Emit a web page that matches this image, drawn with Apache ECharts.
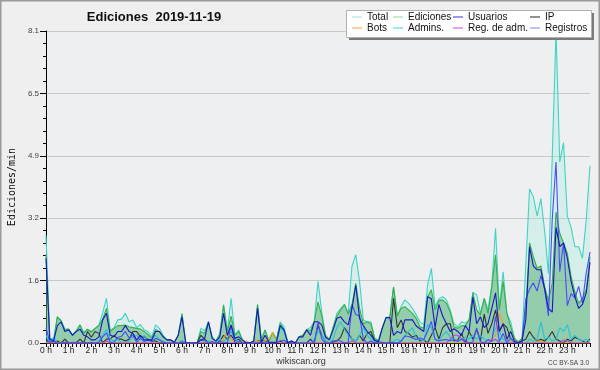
<!DOCTYPE html>
<html><head><meta charset="utf-8">
<script src="https://cdn.jsdelivr.net/npm/echarts@6/dist/echarts.min.js"></script>
<style>html,body{margin:0;padding:0;background:#efefef}#c{width:600px;height:370px}</style>
</head><body><div id="c"></div><script>
const hourLabels = ["0 h","1 h","2 h","3 h","4 h","5 h","6 h","7 h","8 h","9 h","10 h","11 h","12 h","13 h","14 h","15 h","16 h","17 h","18 h","19 h","20 h","21 h","22 h","23 h"];
const yTicks = [0, 1.62, 3.24, 4.86, 6.48, 8.1];

const total = [
2.8,0.12,0.1,0.68,0.58,0.36,0.36,0.22,0.32,0.47,0.27,0.36,
0.3,0.38,0.47,0.78,1.16,0.32,0.4,0.6,0.62,0.77,0.55,0.6,
0.4,0.48,0.34,0.3,0.16,0.47,0.38,0.2,0.08,0.08,0.02,0.2,
0.77,0,0,0,0,0.38,0.32,0.55,0.16,0.05,0.25,1.0,
0.3,1.16,0.2,0.34,0.08,0,0,0.05,1.0,0.1,0.34,0.05,
0.28,0.1,0.55,0.42,0.02,0.05,0,0.16,0.2,0.35,0.4,0.55,
1.6,0.8,0.2,0.08,0.42,0.77,0.9,1.0,0.77,2.0,2.29,1.6,
0.6,0.55,0.55,0.12,0.08,0.4,0.66,0.68,1.46,0.7,0.95,1.12,
1.03,0.9,0.73,0.55,0.47,1.5,1.94,0.95,1.15,1.2,1.12,0.86,
0.51,0.42,0.55,0.51,0.6,1.32,1.25,0.77,1.16,0.86,1.5,2.98,
0.9,1.85,0.77,0.55,0.12,0.03,0.12,2.0,4.0,3.8,3.3,3.75,
2.9,1.8,4.8,8.1,4.7,5.2,3.3,3.0,2.5,2.5,2.2,3.2,
4.6];
const ediciones = [
2.3,0.1,0.05,0.68,0.58,0.34,0.36,0.2,0.3,0.47,0.25,0.36,
0.28,0.38,0.45,0.62,0.9,0.3,0.38,0.45,0.45,0.47,0.42,0.4,
0.38,0.36,0.3,0.22,0.12,0.35,0.3,0.18,0.08,0.08,0.02,0.2,
0.75,0,0,0,0,0.3,0.25,0.55,0.12,0.05,0.22,0.98,
0.3,0.7,0.2,0.3,0.08,0,0,0.05,1.0,0.08,0.34,0.05,
0.28,0.08,0.5,0.35,0.02,0.05,0,0.16,0.2,0.35,0.32,0.55,
1.07,0.7,0.2,0.08,0.4,0.7,0.85,1.0,0.75,1.0,1.55,0.9,
0.5,0.55,0.5,0.12,0.05,0.38,0.66,0.66,1.45,0.7,0.9,0.94,
0.86,0.77,0.64,0.42,0.38,1.2,1.38,0.86,1.1,1.12,1.03,0.8,
0.42,0.38,0.45,0.45,0.6,1.29,0.86,0.73,1.16,0.77,1.46,2.29,
0.86,1.6,0.77,0.42,0.12,0.03,0.12,0.86,2.6,2.24,1.95,2.0,
1.46,1.1,1.55,3.4,2.85,2.6,2.33,1.72,1.33,1.03,1.16,1.38,
2.24];
const usuarios = [
2.2,0.1,0.05,0.45,0.55,0.3,0.34,0.2,0.3,0.36,0.2,0.16,
0.08,0.08,0.16,0.6,0.77,0.2,0.16,0.3,0.3,0.45,0.3,0.25,
0.08,0.2,0.08,0.08,0.08,0.3,0.3,0.16,0.08,0.08,0.02,0.2,
0.68,0,0,0,0,0.08,0.12,0.55,0.12,0.05,0.16,0.77,
0.2,0.47,0.12,0.16,0.08,0,0,0.05,0.9,0.02,0.2,0.02,
0.02,0.02,0.45,0.34,0,0.05,0,0.16,0.16,0.34,0.2,0.55,
0.55,0.47,0.15,0.08,0.34,0.64,0.68,0.55,0.47,0.9,1.5,0.64,
0.45,0.3,0.2,0.07,0.03,0.38,0.66,0.66,0.2,0.3,0.25,0.6,
0.6,0.6,0.44,0.37,0.3,1.2,1.15,0.4,1.0,0.7,0.5,0.3,
0.37,0.3,0.2,0.45,0.3,1.19,0.5,0.68,0.4,0.5,0.9,1.3,
0.3,0.5,0.1,0.3,0.05,0,0.05,0.6,2.5,2.0,1.9,1.9,
1.4,0.9,0.8,3.0,2.5,2.6,2.2,1.6,1.2,0.9,1.0,1.3,
2.1];
const ip = [
0.1,0,0,0.05,0,0.1,0,0,0,0.1,0,0.3,
0.15,0.3,0.25,0,0.1,0.1,0.2,0.1,0.1,0.05,0.1,0.3,
0.3,0.16,0.16,0.1,0.05,0.05,0,0.02,0,0,0,0,
0.05,0,0,0,0,0.2,0.1,0,0,0,0.05,0.2,
0.1,0.2,0.05,0.1,0,0,0,0,0.05,0.05,0.05,0,
0,0,0.05,0,0,0,0,0,0,0,0.1,0,
0.45,0.2,0.05,0,0.05,0.05,0.15,0.4,0.25,0.1,0.05,0.2,
0.05,0.25,0.3,0.05,0.02,0,0,0,1.16,0.4,0.6,0.3,
0.25,0.15,0.2,0.05,0.08,0,0.2,0.4,0.1,0.4,0.5,0.5,
0.05,0.08,0.25,0,0.3,0.1,0.35,0.05,0.75,0.25,0.5,0.86,
0.3,0.5,0.4,0.1,0.05,0,0.05,0.1,0.3,0.15,0.05,0.1,
0.05,0.15,0.3,0.1,0.05,0,0.1,0.05,0.15,0.1,0.05,0,
0.1];
const bots = [
0,0,0,0,0,0,0,0,0,0,0,0,
0,0,0,0,0,0,0,0,0,0,0,0,
0,0,0,0,0,0,0,0,0,0,0,0,
0,0,0,0,0,0,0,0,0,0,0,0.1,
0.3,0.1,0.02,0,0,0.05,0,0,0.05,0,0.05,0.1,
0.28,0.05,0,0,0,0,0,0,0,0,0,0,
0,0,0,0,0,0,0,0,0,0,0,0,
0,0,0,0,0,0,0,0,0,0,0,0,
0,0,0,0,0,0,0,0,0,0,0,0,
0,0,0,0,0,0,0,0,0,0,0.1,0.2,
0.77,0.5,0.1,0,0.08,0,0,0,0,0,0.05,0.05,
0,0,0,0,0,0,0,0,0,0,0,0,
0];
const admins = [
0.2,0,0.15,0,0,0,0,0,0,0,0,0,
0,0,0.05,0.2,0.35,0.1,0.05,0.1,0,0,0.05,0.15,
0.2,0.1,0.2,0.05,0.1,0.2,0.1,0.05,0,0,0,0,
0.05,0,0,0,0,0.1,0,0.05,0,0,0.1,0.05,
0.1,0.3,0.1,0.05,0,0,0,0,0,0,0,0,
0,0,0.4,0.3,0,0,0,0,0,0,0,0.1,
0.3,0.2,0.05,0,0.1,0.4,0.55,0.35,0.2,0.1,0.05,0.2,
0.4,0.2,0.1,0.05,0,0,0,0,0.05,0.1,0.05,0.2,
0.3,0.4,0.1,0.1,0.05,0.47,0.4,0.1,0.05,0.2,0.3,0.15,
0.1,0.05,0.1,0.15,0.1,0.2,0.1,0.2,0.1,0.05,0.1,0.4,
0.3,0.1,0.05,0.1,0.02,0,0,0,0.1,0.05,0.1,0.55,
0.1,0.15,0.05,0.1,0.4,0.3,0.47,0.1,0.2,0.1,0.05,0.1,
0.05];
const regAdm = [
0,0,0,0,0,0,0,0,0,0,0,0,
0,0,0,0,0.05,0,0,0,0,0,0,0,
0,0,0,0,0,0,0,0,0,0,0,0,
0,0,0,0,0,0,0,0,0,0,0,0,
0,0,0,0,0,0,0,0,0,0,0,0,
0,0,0,0,0,0,0,0,0,0,0,0,
0,0,0,0,0,0,0,0,0,0.05,0,0,
0,0,0,0,0,0,0,0,0,0,0,0,
0,0,0,0,0,0,0,0,0,0,0,0.1,
0.2,0.2,0.1,0,0,0,0,0,0,0,0.05,0.1,
0,0,0,0,0,0,0,0,0,0,0,0,
0,0,0,0,0,0.08,0.05,0,0,0,0,0,
0];
const registros = [
0.4,0.02,0.05,0,0,0.02,0,0.02,0.02,0,0.02,0,
0.02,0,0.02,0.16,0.26,0.02,0.02,0.15,0.17,0.3,0.13,0.2,
0.02,0.12,0.04,0.08,0.04,0.12,0.08,0.02,0,0,0,0,
0.02,0,0,0,0,0.08,0.07,0,0.04,0,0.03,0.02,
0,0.46,0,0.04,0,0,0,0,0,0.02,0,0,
0,0.02,0.05,0.07,0,0,0,0,0,0,0.08,0,
0.53,0.1,0,0,0.02,0.07,0.05,0,0.02,1.0,0.74,0.7,
0.1,0,0.05,0,0.03,0.02,0,0.02,0.01,0,0.05,0.18,
0.17,0.13,0.09,0.13,0.09,0.3,0.56,0.09,0.05,0.08,0.09,0.06,
0.09,0.04,0.1,0.06,0,0.03,0.39,0.04,0,0.09,0.04,0.69,
0.04,0.25,0,0.13,0,0,0,1.14,1.4,1.56,1.35,1.75,
1.4,0.7,3.2,4.7,1.85,2.6,0.97,1.28,1.17,1.47,1.04,1.82,
2.36];

const slots = total.map((_, i) => i);
const chart = echarts.init(document.getElementById('c'), null, {renderer: 'canvas'});

function ser(name, data, color, extra) {
  return Object.assign({
    name: name, type: 'line', data: data, color: color,
    showSymbol: false, symbol: 'none', smooth: false,
    lineStyle: {color: color, width: 1.1},
    emphasis: {disabled: true}, animation: false
  }, extra || {});
}

const legendItems = [
  ['Total', 352, 12], ['Ediciones', 393, 12], ['Usuarios', 453, 12], ['IP', 530, 12],
  ['Bots', 352, 23], ['Admins.', 393, 23], ['Reg. de adm.', 453, 23], ['Registros', 530, 23]
];
const legendColors = {
  'Total': '#9fe3dc', 'Ediciones': '#8fd49a', 'Usuarios': '#3434d4', 'IP': '#222222',
  'Bots': '#f2a040', 'Admins.': '#40cce0', 'Reg. de adm.': '#d040e0', 'Registros': '#8080f0'
};

const option = {
  backgroundColor: '#efefef',
  animation: false,
  grid: {left: 46, right: 10, top: 31, bottom: 27, containLabel: false, outerBoundsMode: 'none',
         show: true, backgroundColor: '#eeeff1', borderWidth: 0},
  graphic: [
    {type: 'rect', z: 100, shape: {x: 0.5, y: 0.5, width: 599, height: 369}, style: {fill: 'none', stroke: '#9a9a9a', lineWidth: 2}},
    {type: 'text', z: 100, x: 154, y: 17, style: {text: 'Ediciones  2019-11-19', font: 'bold 13px "Liberation Sans", Arial, sans-serif', fill: '#111', textAlign: 'center', textVerticalAlign: 'middle'}},
    {type: 'rect', z: 90, shape: {x: 349, y: 13, width: 245, height: 27}, style: {fill: '#7a7a7a'}},
    {type: 'rect', z: 91, shape: {x: 346.5, y: 10.5, width: 245, height: 27}, style: {fill: '#ffffff', stroke: '#b0b0b0', lineWidth: 1}},
    {type: 'text', z: 100, x: 301, y: 362, style: {text: 'wikiscan.org', font: '9px "Liberation Sans", Arial, sans-serif', fill: '#333', textAlign: 'center', textVerticalAlign: 'middle'}},
    {type: 'text', z: 100, x: 589, y: 363, style: {text: 'CC BY-SA 3.0', font: '6.5px "Liberation Sans", Arial, sans-serif', fill: '#444', textAlign: 'right', textVerticalAlign: 'middle'}}
  ],
  legend: legendItems.map(([n, l, t]) => ({
    data: [{name: n, itemStyle: {color: legendColors[n]}}],
    left: l, top: t, padding: 0, z: 95,
    icon: 'rect', itemWidth: 10, itemHeight: 1, selectedMode: false,
    textStyle: {fontSize: 10, color: '#111', fontFamily: '"Liberation Sans", Arial, sans-serif', padding: [0, 0, 0, 0]}
  })),
  xAxis: {
    type: 'category', data: slots, boundaryGap: false,
    axisLine: {show: true, lineStyle: {color: '#000', width: 1}},
    axisTick: {show: true, interval: 0, length: 4, lineStyle: {color: '#000'}},
    axisLabel: {
      interval: 0, margin: 3, fontSize: 8.5, color: '#222', fontFamily: '"Liberation Sans", Arial, sans-serif',
      formatter: (v, idx) => (idx % 6 === 0 && idx < 144) ? hourLabels[idx / 6] : ''
    },
    splitLine: {show: false}
  },
  yAxis: {
    type: 'value', min: yTicks[0], max: yTicks[yTicks.length - 1], interval: yTicks[1],
    name: 'Ediciones/min', nameLocation: 'middle', nameGap: 29, nameRotate: 90,
    nameTextStyle: {fontSize: 10, color: '#111', fontFamily: '"DejaVu Sans Mono", monospace'},
    axisLine: {show: true, lineStyle: {color: '#000', width: 1}},
    axisTick: {show: true, length: 6, lineStyle: {color: '#000'}},
    minorTick: {show: true, splitNumber: 5, length: 3, lineStyle: {color: '#000'}},
    axisLabel: {fontSize: 8, color: '#444', margin: 7, fontFamily: '"Liberation Sans", Arial, sans-serif', formatter: v => v.toFixed(1)},
    splitLine: {show: true, lineStyle: {color: '#c8c8c8', width: 1}}
  },
  series: [
    ser('Total', total, '#3fd3c4', {z: 2, areaStyle: {color: 'rgba(150,238,214,0.38)', origin: 'start'}}),
    ser('Ediciones', ediciones, '#36b04a', {z: 3, areaStyle: {color: 'rgba(55,160,85,0.6)', origin: 'start'}}),
    ser('IP', ip, '#333333', {z: 4}),
    ser('Admins.', admins, '#26c0e0', {z: 4}),
    ser('Bots', bots, '#f0a020', {z: 4}),
    ser('Reg. de adm.', regAdm, '#c040e0', {z: 4}),
    ser('Registros', registros, '#4a4aff', {z: 5}),
    ser('Usuarios', usuarios, '#1818c0', {z: 6})
  ]
};
chart.setOption(option);
</script></body></html>
